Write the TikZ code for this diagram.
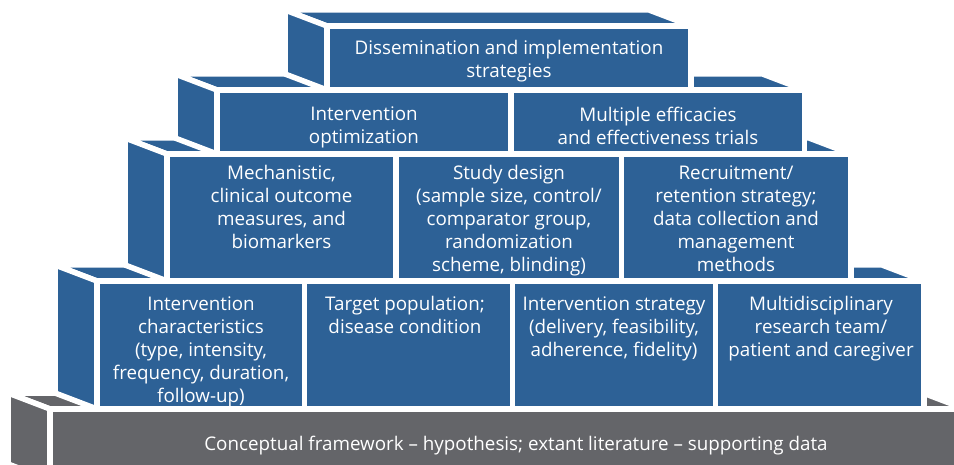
\documentclass[tikz,border=0pt]{standalone}
\usepackage{fontspec}
\setmainfont{Open Sans}
\definecolor{tierblue}{RGB}{45,97,150}
\definecolor{tiergray}{RGB}{100,101,105}
\tikzset{
  face/.style={fill=#1, draw=white, line width=5.5pt, line join=round},
  lbl/.style={text=white, align=center, inner sep=0pt, anchor=north,
              font=\fontsize{18.8}{23}\selectfont}
}
% #1 colour, #2 x0, #3 x1, #4 y0, #5 y1 : top face and left side face of a tier
\newcommand\tiersides[5]{%
  \path[face=#1] ({#2-42},{#4-16}) -- ({#3-42},{#4-16}) -- (#3,#4) -- (#2,#4) -- cycle;
  \path[face=#1] ({#2-42},{#4-16}) -- (#2,#4) -- (#2,#5) -- ({#2-42},{#5-16}) -- cycle;
}
\begin{document}
\begin{tikzpicture}[x=1pt,y=-1pt]
\useasboundingbox (0,0) rectangle (954,465);
\clip (0,0) rectangle (954,465);
\fill[white] (0,0) rectangle (954,465);

% base (gray)
\tiersides{tiergray}{50}{965}{409}{480}
\path[face=tiergray] (50,409) rectangle (965,480);

% tier 1
\tiersides{tierblue}{97}{924}{281}{409}
\path[face=tierblue] (97,281) rectangle (304.5,409);
\path[face=tierblue] (304.5,281) rectangle (512.5,409);
\path[face=tierblue] (512.5,281) rectangle (715.5,409);
\path[face=tierblue] (715.5,281) rectangle (924,409);

% tier 2
\tiersides{tierblue}{167}{851}{154}{281}
\path[face=tierblue] (167,154) rectangle (396,281);
\path[face=tierblue] (396,154) rectangle (621.5,281);
\path[face=tierblue] (621.5,154) rectangle (851,281);

% tier 3
\tiersides{tierblue}{217}{804.5}{90}{154}
\path[face=tierblue] (217,90) rectangle (511,154);
\path[face=tierblue] (511,90) rectangle (804.5,154);

% tier 4
\tiersides{tierblue}{327}{691}{26}{90}
\path[face=tierblue] (327,26) rectangle (691,90);

% texts
\node[lbl] (base) at (516,435.5) {Conceptual framework -- hypothesis; extant literature -- supporting data};

\node[lbl] (ic) at (201,296.5) {Intervention\\characteristics\\(type, intensity,\\frequency, duration,\\follow-up)};
\node[lbl] (tp) at (405,296.5) {Target population;\\disease condition};
\node[lbl] (is) at (614,296.5) {Intervention strategy\\(delivery, feasibility,\\adherence, fidelity)};
\node[lbl] (mr) at (821,296.5) {Multidisciplinary\\research team/\\patient and caregiver};

\node[lbl] (mc) at (281.5,165.5) {Mechanistic,\\clinical outcome\\measures, and\\biomarkers};
\node[lbl] (sd) at (509,165.5) {Study design\\(sample size, control/\\comparator group,\\randomization\\scheme, blinding)};
\node[lbl] (rr) at (736,165.5) {Recruitment/\\retention strategy;\\data collection and\\management\\methods};

\node[lbl] (io) at (364,106.5) {Intervention\\optimization};
\node[lbl] (me) at (658,106.5) {Multiple efficacies\\and effectiveness trials};

\node[lbl] (di) at (509,40.5) {Dissemination and implementation\\strategies};
\end{tikzpicture}
\end{document}
